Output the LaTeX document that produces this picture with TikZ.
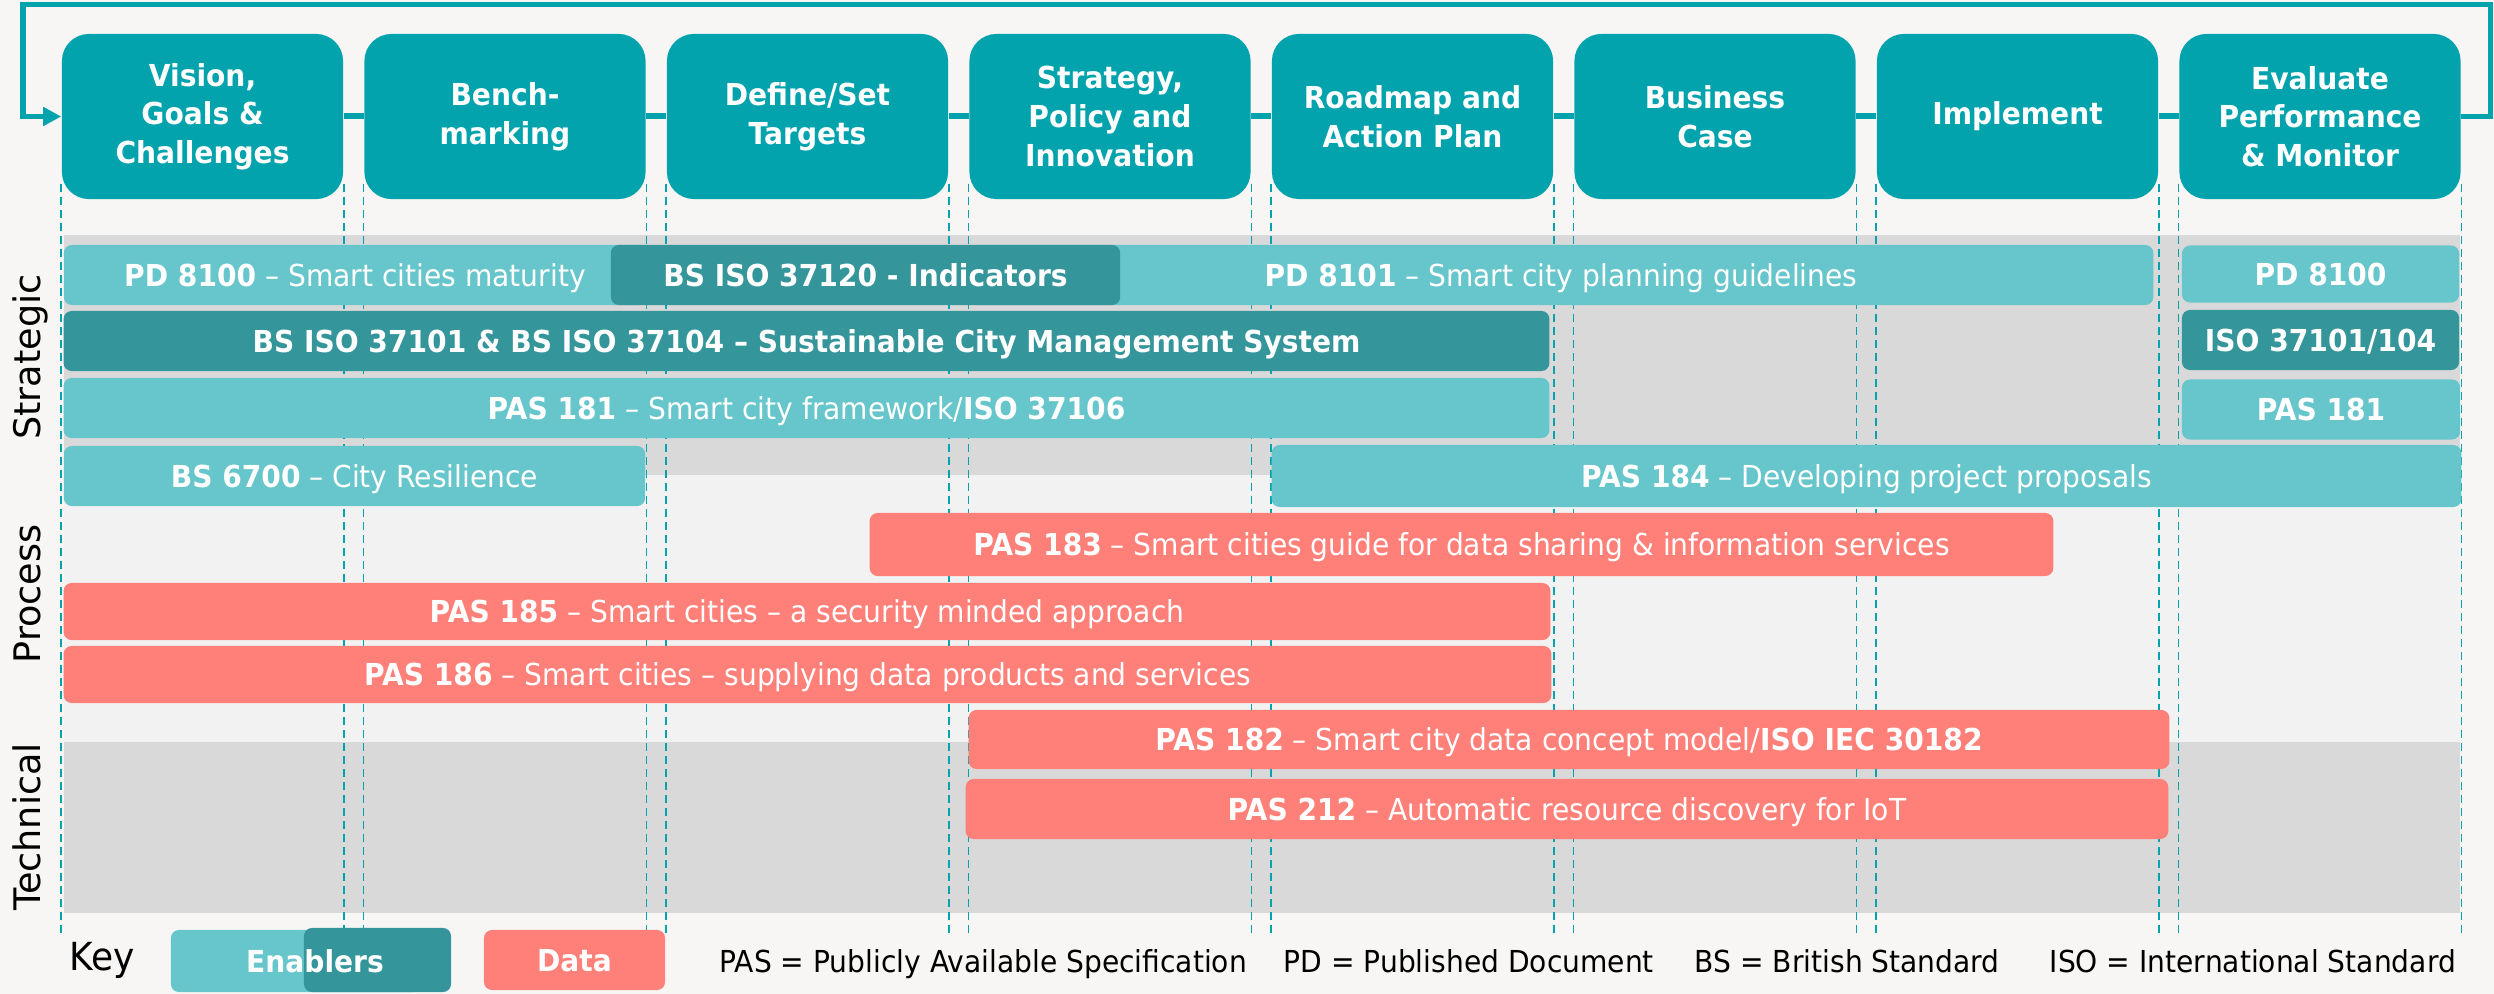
\documentclass[tikz,border=0pt]{standalone}
\usepackage{fontspec}
\setmainfont{DejaVu Sans}[FakeStretch=0.93]
\newfontfamily\sidefont{DejaVu Sans}
\usepackage{tikz}
\usetikzlibrary{arrows.meta}

\definecolor{stageteal}{HTML}{02A3AD}
\definecolor{enablerlight}{HTML}{67C6CB}
\definecolor{enablerdark}{HTML}{34959A}
\definecolor{datasalmon}{HTML}{FF8078}
\definecolor{bandgray}{HTML}{D9D9D9}
\definecolor{bandlight}{HTML}{F2F2F2}
\definecolor{pagebg}{HTML}{F7F6F4}

\begin{document}
\begin{tikzpicture}[x=0.01cm, y=-0.01cm]

\tikzstyle{stage} = [rectangle, rounded corners=0.27cm, fill=stageteal, text=white, align=center, inner sep=0pt, minimum width=2.81cm, minimum height=1.65cm, font=\fontsize{8.6}{11}\selectfont\bfseries]
\tikzstyle{doc_enabler} = [rectangle, rounded corners=0.08cm, fill=enablerlight, text=white, inner sep=0pt, minimum height=0.6cm, text height=6.3pt, text depth=0pt, font=\fontsize{8.6}{11}\selectfont]
\tikzstyle{doc_core} = [doc_enabler, fill=enablerdark]
\tikzstyle{doc_data} = [doc_enabler, fill=datasalmon]
\tikzstyle{link} = [draw=stageteal, line width=0.06cm]
\tikzstyle{loop_back} = [draw=stageteal, line width=0.05cm, -{Triangle[length=0.18cm, width=0.18cm]}]
\tikzstyle{guide} = [draw=stageteal, line width=0.015cm, dash pattern=on 0.08cm off 0.05cm]
\tikzstyle{band_label} = [rotate=90, anchor=base, inner sep=0pt, text=black, font=\sidefont\fontsize{10.4}{12}\selectfont]
\tikzstyle{key_text} = [anchor=base west, inner sep=0pt, text=black, font=\fontsize{8.6}{11}\selectfont]

%------------------------------------------------------------
	\fill[pagebg] (0,0) rectangle (2494,994);
	\useasboundingbox (0,0) rectangle (2494,994);
	\fill[bandgray] (64,235) rectangle (2460,475);
	\fill[bandlight] (64,475) rectangle (2460,742);
	\fill[bandgray] (64,742) rectangle (2460,913);

%------------------------------------------------------------
	\node[stage] (s1) at (202.5,116.5) {Vision,\\Goals \&\\Challenges};
	\node[stage] (s2) at (505,116.5) {Bench-\\marking};
	\node[stage] (s3) at (807.5,116.5) {Define/Set\\Targets};
	\node[stage] (s4) at (1110,116.5) {Strategy,\\Policy and\\Innovation};
	\node[stage] (s5) at (1412.5,116.5) {Roadmap and\\Action Plan};
	\node[stage] (s6) at (1715,116.5) {Business\\Case};
	\node[stage] (s7) at (2017.5,116.5) {Implement};
	\node[stage] (s8) at (2320,116.5) {Evaluate\\Performance\\\& Monitor};

	\path[link] (s1) edge (s2);
	\path[link] (s2) edge (s3);
	\path[link] (s3) edge (s4);
	\path[link] (s4) edge (s5);
	\path[link] (s5) edge (s6);
	\path[link] (s6) edge (s7);
	\path[link] (s7) edge (s8);

	\coordinate (loop_tr) at (2490.5,5);
	\coordinate (loop_tl) at (23,5);
	\draw[loop_back] (s8.east) -| (loop_tr) -- (loop_tl) |- (s1.west);

%------------------------------------------------------------
	\coordinate (guide_end) at (0,933);
	\draw[guide] ([yshift=0.16cm]s1.south west) -- (s1.south west |- guide_end) ([yshift=0.16cm]s1.south east) -- (s1.south east |- guide_end);
	\draw[guide] ([yshift=0.16cm]s2.south west) -- (s2.south west |- guide_end) ([yshift=0.16cm]s2.south east) -- (s2.south east |- guide_end);
	\draw[guide] ([yshift=0.16cm]s3.south west) -- (s3.south west |- guide_end) ([yshift=0.16cm]s3.south east) -- (s3.south east |- guide_end);
	\draw[guide] ([yshift=0.16cm]s4.south west) -- (s4.south west |- guide_end) ([yshift=0.16cm]s4.south east) -- (s4.south east |- guide_end);
	\draw[guide] ([yshift=0.16cm]s5.south west) -- (s5.south west |- guide_end) ([yshift=0.16cm]s5.south east) -- (s5.south east |- guide_end);
	\draw[guide] ([yshift=0.16cm]s6.south west) -- (s6.south west |- guide_end) ([yshift=0.16cm]s6.south east) -- (s6.south east |- guide_end);
	\draw[guide] ([yshift=0.16cm]s7.south west) -- (s7.south west |- guide_end) ([yshift=0.16cm]s7.south east) -- (s7.south east |- guide_end);
	\draw[guide] ([yshift=0.16cm]s8.south west) -- (s8.south west |- guide_end) ([yshift=0.16cm]s8.south east) -- (s8.south east |- guide_end);

%------------------------------------------------------------
	\node[band_label] (lbl_strategic) at (40,357) {Strategic};
	\node[band_label] (lbl_process) at (40,594) {Process};
	\node[band_label] (lbl_technical) at (40,827) {Technical};

%------------------------------------------------------------
	\node[doc_enabler, minimum width=5.82cm] (pd8100) at (355,275) {\textbf{PD 8100} – Smart cities maturity};
	\node[doc_enabler, minimum width=11.84cm] (pd8101) at (1561,275) {\textbf{PD 8101} – Smart city planning guidelines};
	\node[doc_core, minimum width=5.09cm] (iso37120) at (865.5,275) {\textbf{BS ISO 37120 - Indicators}};
	\node[doc_enabler, minimum width=2.77cm, minimum height=0.57cm] (pd8100_r) at (2320.5,274) {\textbf{PD 8100}};

	\node[doc_core, minimum width=14.85cm] (iso37101) at (806.5,341) {\textbf{BS ISO 37101 \& BS ISO 37104 – Sustainable City Management System}};
	\node[doc_core, minimum width=2.77cm] (iso37101_r) at (2320.5,340) {\textbf{ISO 37101/104}};

	\node[doc_enabler, minimum width=14.85cm] (pas181) at (806.5,408) {\textbf{PAS 181} – Smart city framework/\textbf{ISO 37106}};
	\node[doc_enabler, minimum width=2.78cm] (pas181_r) at (2321,409.5) {\textbf{PAS 181}};

	\node[doc_enabler, minimum width=5.81cm] (bs6700) at (354.5,476) {\textbf{BS 6700} – City Resilience};
	\node[doc_enabler, minimum width=11.89cm, minimum height=0.62cm] (pas184) at (1866.5,476) {\textbf{PAS 184} – Developing project proposals};

%------------------------------------------------------------
	\node[doc_data, minimum width=11.83cm, minimum height=0.63cm] (pas183) at (1461.5,544.5) {\textbf{PAS 183} – Smart cities guide for data sharing \& information services};
	\node[doc_data, minimum width=14.86cm, minimum height=0.57cm] (pas185) at (807,611.5) {\textbf{PAS 185} – Smart cities – a security minded approach};
	\node[doc_data, minimum width=14.87cm, minimum height=0.57cm] (pas186) at (807.5,674.5) {\textbf{PAS 186} – Smart cities – supplying data products and services};

	\node[doc_data, minimum width=12cm, minimum height=0.59cm] (pas182) at (1569,739.5) {\textbf{PAS 182} – Smart city data concept model/\textbf{ISO IEC 30182}};
	\node[doc_data, minimum width=12.02cm] (pas212) at (1567,809) {\textbf{PAS 212} – Automatic resource discovery for IoT};

%------------------------------------------------------------
	\node[key_text, font=\fontsize{11}{13}\selectfont] (key) at (69,970) {Key};
	\node[doc_enabler, minimum width=2.49cm, minimum height=0.62cm] (key_light) at (295.5,961) {};
	\node[doc_core, minimum width=1.47cm, minimum height=0.64cm] (key_dark) at (377.5,960) {};
	\node[text=white, inner sep=0pt, text height=6.3pt, text depth=0pt, font=\fontsize{8.6}{11}\selectfont\bfseries] (key_enablers) at (315,961) {Enablers};
	\node[doc_data, minimum width=1.81cm, minimum height=0.6cm] (key_data) at (574.5,960) {\textbf{Data}};

	\node[key_text] (def_pas) at (719,972) {PAS = Publicly Available Specification};
	\node[key_text] (def_pd) at (1283,972) {PD = Published Document};
	\node[key_text] (def_bs) at (1694,972) {BS = British Standard};
	\node[key_text] (def_iso) at (2049,972) {ISO = International Standard};

\end{tikzpicture}
\end{document}
